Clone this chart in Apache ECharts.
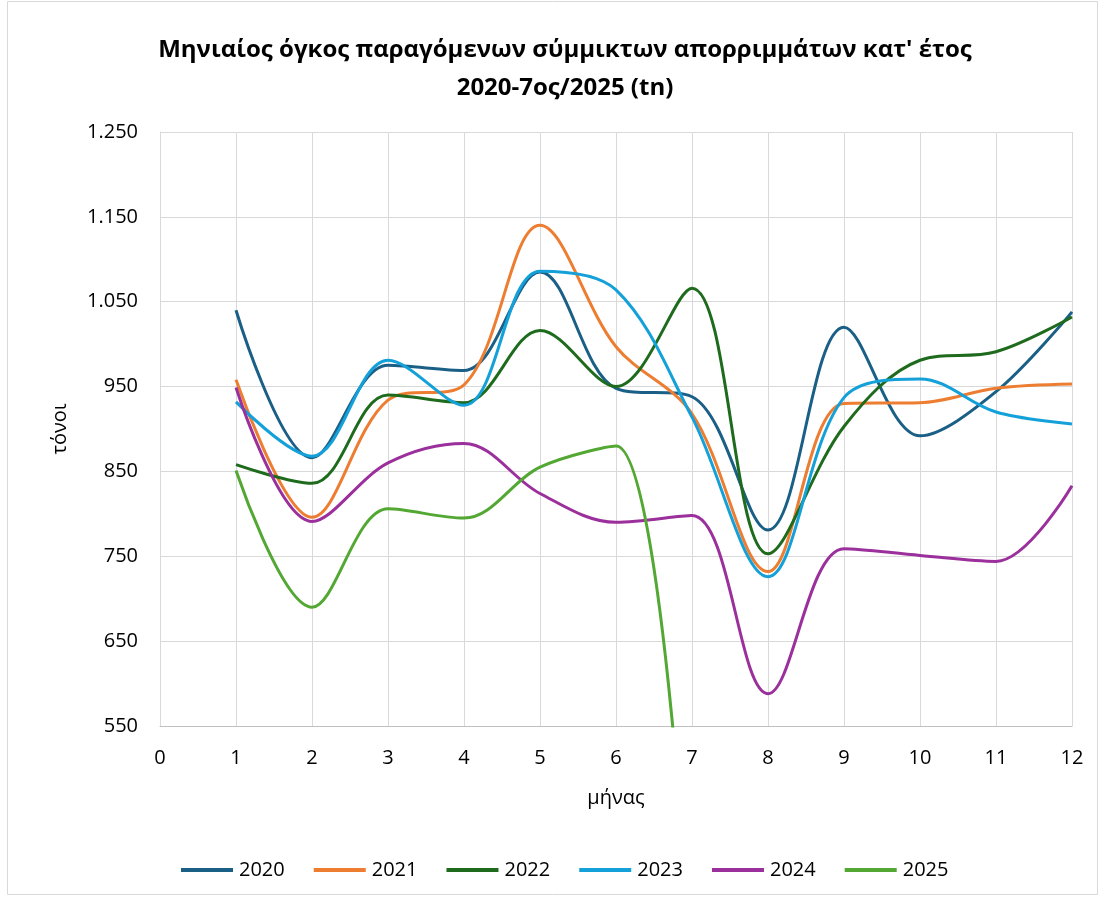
<!DOCTYPE html>
<html>
<head>
<meta charset="utf-8">
<script src="https://cdn.jsdelivr.net/npm/echarts@6/dist/echarts.min.js"></script>
<style>
html,body{margin:0;padding:0;background:#fff;}
#chart{width:1105px;height:897px;}
</style>
</head>
<body>
<div id="chart"></div>
<script>
const months = [1,2,3,4,5,6,7,8,9,10,11,12];
const years = ['2020','2021','2022','2023','2024','2025'];
const v2020 = [1040, 866, 975, 969, 1085, 948, 938, 781, 1020, 892, 944, 1038];
const v2021 = [958, 796, 934, 952, 1140, 997, 918, 732, 930, 931, 948, 953];
const v2022 = [858, 836, 940, 931, 1016, 950, 1066, 753, 903, 981, 991, 1032];
const v2023 = [932, 868, 981, 928, 1086, 1064, 914, 726, 937, 959, 920, 906];
const v2024 = [949, 791, 860, 883, 824, 790, 798, 588, 759, 751, 744, 833];
const v2025 = [851, 690, 806, 795, 855, 880, 250];
const colors = ['#1a5f86', '#ed7d31', '#1e6b1e', '#14a0d8', '#9b2f9b', '#52a832'];
const seriesValues = [v2020, v2021, v2022, v2023, v2024, v2025];

const fontFam = '"Open Sans", "Noto Sans", sans-serif';
const chart = echarts.init(document.getElementById('chart'));
chart.setOption({
  animation: false,
  backgroundColor: '#fff',
  color: colors,
  title: {
    text: 'Μηνιαίος όγκος παραγόμενων σύμμικτων απορριμμάτων κατ\' έτος\n2020-7ος/2025 (tn)',
    left: 560, top: 26, textAlign: 'center',
    textStyle: {fontFamily: fontFam, fontSize: 24, fontWeight: 'bold', color: '#000', lineHeight: 38}
  },
  graphic: [{type: 'rect', shape: {x: 7.5, y: 1.5, width: 1090, height: 893}, style: {fill: 'none', stroke: '#d9d9d9', lineWidth: 1}, silent: true}],
  legend: {
    data: years, left: 176, top: 855,
    icon: 'rect', itemWidth: 52, itemHeight: 4, itemGap: 29,
    textStyle: {fontFamily: fontFam, fontSize: 20, color: '#000', padding: [0, 0, 0, 1]}
  },
  grid: {left: 160, right: 33, top: 132, bottom: 171},
  xAxis: {
    type: 'value', min: 0, max: 12, interval: 1,
    name: 'μήνας', nameLocation: 'middle', nameGap: 62,
    nameTextStyle: {fontFamily: fontFam, fontSize: 20, color: '#000'},
    axisLine: {show: true, lineStyle: {color: '#bfbfbf', width: 1}},
    axisTick: {show: false},
    axisLabel: {fontFamily: fontFam, fontSize: 20, color: '#000', margin: 22},
    splitLine: {show: true, lineStyle: {color: '#d9d9d9', width: 1}}
  },
  yAxis: {
    type: 'value', min: 550, max: 1250, interval: 100,
    name: 'τόνοι', nameLocation: 'middle', nameGap: 90, nameRotate: 90,
    nameTextStyle: {fontFamily: fontFam, fontSize: 20, color: '#000'},
    axisLine: {show: true, lineStyle: {color: '#d9d9d9', width: 1}},
    axisTick: {show: false},
    axisLabel: {fontFamily: fontFam, fontSize: 20, color: '#000', margin: 22,
      formatter: v => String(v).replace(/\B(?=(\d{3})+(?!\d))/g, '.')},
    splitLine: {show: true, lineStyle: {color: '#d9d9d9', width: 1}}
  },
  series: years.map((y, i) => ({
    name: y, type: 'line', smooth: 0.35, symbol: 'none', clip: true,
    lineStyle: {width: 3, color: colors[i]},
    itemStyle: {color: colors[i]},
    data: seriesValues[i].map((v, j) => [months[j], v])
  }))
});
</script>
</body>
</html>
